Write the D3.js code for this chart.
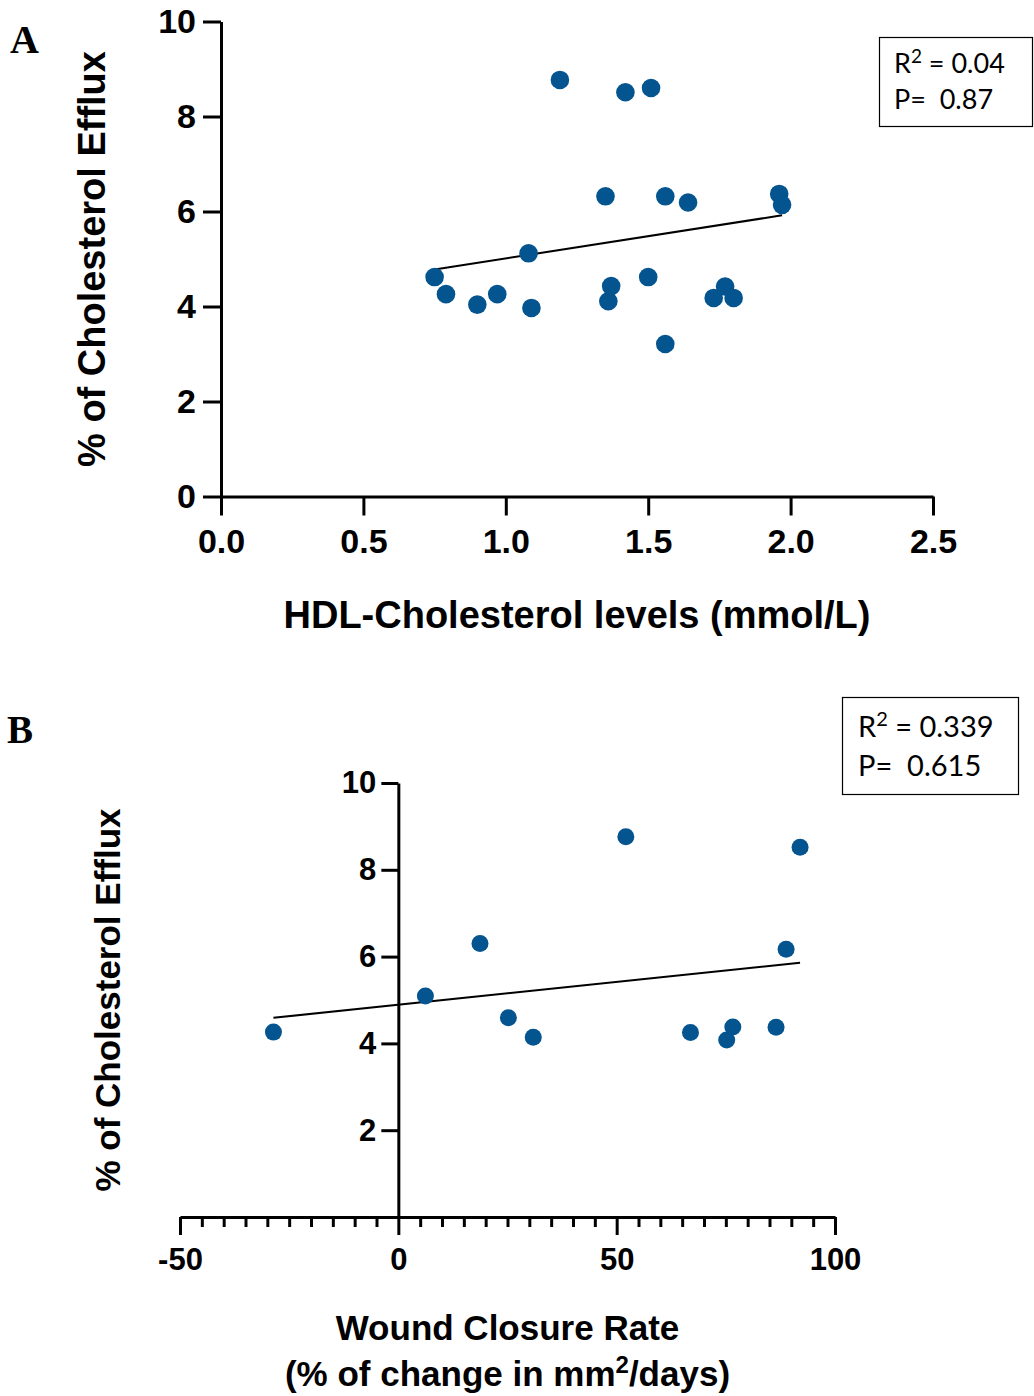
<!DOCTYPE html>
<html>
<head>
<meta charset="utf-8">
<script src="https://cdn.jsdelivr.net/npm/d3@7"></script>
<style>
  html, body { margin: 0; padding: 0; background: #fff; }
  svg { display: block; }
  .axis text { font-family: "Liberation Sans", Arial, sans-serif; font-weight: bold; fill: #000; }
  .axis path, .axis line { stroke: #000; stroke-width: 3; }
  .title { font-family: "Liberation Sans", Arial, sans-serif; font-weight: bold; fill: #000; }
  .panel { font-family: "Liberation Serif", "Times New Roman", serif; font-weight: bold; fill: #000; }
  .stats { font-family: Lato, "Open Sans", sans-serif; fill: #000; }
</style>
</head>
<body>
<svg id="chart" width="1034" height="1396"></svg>
<script>
// Panel A: HDL-cholesterol (mmol/L) vs % cholesterol efflux
const hdlLevels = [0.75, 0.79, 0.90, 0.97, 1.08, 1.09, 1.19, 1.35, 1.36, 1.37, 1.42, 1.50, 1.51, 1.56, 1.56, 1.64, 1.73, 1.77, 1.80, 1.96, 1.97];
const effluxA   = [4.62, 4.26, 4.04, 4.26, 5.12, 3.97, 8.77, 6.32, 4.11, 4.43, 8.51, 4.62, 8.60, 6.32, 3.21, 6.19, 4.18, 4.42, 4.18, 6.37, 6.14];
// Panel B: wound closure rate vs % cholesterol efflux
const woundRate = [-28.6, 6.2, 18.7, 25.2, 30.9, 52.1, 66.9, 75.2, 76.6, 86.5, 88.8, 92.0];
const effluxB   = [4.26, 5.09, 6.30, 4.59, 4.14, 8.76, 4.25, 4.08, 4.38, 4.37, 6.17, 8.52];

// Linear fits [slope, intercept]
const fitA = [0.935, 4.078];
const fitB = [0.01053, 4.89];

// Statistics shown in the boxes
const statsA = { r2: "0.04", p: "0.87" };
const statsB = { r2: "0.339", p: "0.615" };

// Tick values
const xTicksA = [0, 0.5, 1.0, 1.5, 2.0, 2.5];
const yTicksA = [0, 2, 4, 6, 8, 10];
const xTicksB = [-50, 0, 50, 100];
const xMinorB = d3.range(-45, 100, 5).filter(v => v % 50 !== 0);
const yTicksB = [2, 4, 6, 8, 10];

const dotColor = "#04548f";
const svg = d3.select("#chart");

// ---------- Panel A ----------
const xA = d3.scaleLinear().domain([0, 2.5]).range([221, 933]);
const yA = d3.scaleLinear().domain([0, 10]).range([496.5, 21.5]);

const gA = svg.append("g");
gA.append("g").attr("class", "axis")
  .attr("transform", `translate(0,${yA(0)})`)
  .call(d3.axisBottom(xA).tickValues(xTicksA).tickFormat(d => d.toFixed(1))
        .tickSize(19).tickSizeOuter(0).tickPadding(13))
  .call(g => g.selectAll("text").attr("font-size", 34));
gA.append("g").attr("class", "axis")
  .attr("transform", `translate(${xA(0)},0)`)
  .call(d3.axisLeft(yA).tickValues(yTicksA).tickFormat(d => String(d))
        .tickSize(18).tickSizeOuter(0).tickPadding(7))
  .call(g => g.selectAll("text").attr("font-size", 34));

const xExtA = d3.extent(hdlLevels);
gA.append("line")
  .attr("x1", xA(xExtA[0])).attr("y1", yA(fitA[0] * xExtA[0] + fitA[1]))
  .attr("x2", xA(xExtA[1])).attr("y2", yA(fitA[0] * xExtA[1] + fitA[1]))
  .attr("stroke", "#000").attr("stroke-width", 2);

gA.selectAll("circle").data(hdlLevels).join("circle")
  .attr("cx", d => xA(d))
  .attr("cy", (d, i) => yA(effluxA[i]))
  .attr("r", 9.3)
  .attr("fill", dotColor);

gA.append("text").attr("class", "title")
  .attr("transform", `translate(105,${(yA(0) + yA(10)) / 2}) rotate(-90)`)
  .attr("text-anchor", "middle").attr("font-size", 38)
  .text("% of Cholesterol Efflux");
gA.append("text").attr("class", "title")
  .attr("x", (xA(0) + xA(2.5)) / 2).attr("y", 628)
  .attr("text-anchor", "middle").attr("font-size", 38)
  .text("HDL-Cholesterol levels (mmol/L)");

gA.append("text").attr("class", "panel")
  .attr("x", 10).attr("y", 53).attr("font-size", 40).text("A");

// stats box A
gA.append("rect").attr("x", 879.5).attr("y", 37.5).attr("width", 153).attr("height", 89)
  .attr("fill", "none").attr("stroke", "#000").attr("stroke-width", 1.2);
const tA1 = gA.append("text").attr("class", "stats").attr("x", 894).attr("y", 73).attr("font-size", 27);
tA1.append("tspan").text("R");
tA1.append("tspan").attr("font-size", 19).attr("dy", -10).text("2");
tA1.append("tspan").attr("dy", 10).text(" = " + statsA.r2);
gA.append("text").attr("class", "stats").attr("x", 894).attr("y", 109).attr("font-size", 27)
  .attr("xml:space", "preserve").text("P=  " + statsA.p);

// ---------- Panel B ----------
const xB = d3.scaleLinear().domain([-50, 100]).range([180, 835]);
const yB = d3.scaleLinear().domain([0, 10]).range([1217, 783]);

const gB = svg.append("g");
gB.append("g").attr("class", "axis")
  .attr("transform", `translate(0,${yB(0)})`)
  .call(d3.axisBottom(xB).tickValues(xMinorB).tickFormat("").tickSize(10).tickSizeOuter(0))
  .call(g => g.select(".domain").remove());
gB.append("g").attr("class", "axis")
  .attr("transform", `translate(0,${yB(0)})`)
  .call(d3.axisBottom(xB).tickValues(xTicksB).tickFormat(d => String(d))
        .tickSize(18).tickSizeOuter(0).tickPadding(13))
  .call(g => g.selectAll("text").attr("font-size", 31));
gB.append("g").attr("class", "axis")
  .attr("transform", `translate(${xB(0)},0)`)
  .call(d3.axisLeft(yB).tickValues(yTicksB).tickFormat(d => String(d))
        .tickSize(17).tickSizeOuter(0).tickPadding(5))
  .call(g => g.selectAll("text").attr("font-size", 31));

const xExtB = d3.extent(woundRate);
gB.append("line")
  .attr("x1", xB(xExtB[0])).attr("y1", yB(fitB[0] * xExtB[0] + fitB[1]))
  .attr("x2", xB(xExtB[1])).attr("y2", yB(fitB[0] * xExtB[1] + fitB[1]))
  .attr("stroke", "#000").attr("stroke-width", 2);

gB.selectAll("circle").data(woundRate).join("circle")
  .attr("cx", d => xB(d))
  .attr("cy", (d, i) => yB(effluxB[i]))
  .attr("r", 8.5)
  .attr("fill", dotColor);

gB.append("text").attr("class", "title")
  .attr("transform", `translate(120,${(yB(0) + yB(10)) / 2}) rotate(-90)`)
  .attr("text-anchor", "middle").attr("font-size", 35)
  .text("% of Cholesterol Efflux");

const cxB = (xB(-50) + xB(100)) / 2;
gB.append("text").attr("class", "title")
  .attr("x", cxB).attr("y", 1340)
  .attr("text-anchor", "middle").attr("font-size", 35)
  .text("Wound Closure Rate");
const l2 = gB.append("text").attr("class", "title")
  .attr("x", cxB).attr("y", 1386)
  .attr("text-anchor", "middle").attr("font-size", 35);
l2.append("tspan").text("(% of change in mm");
l2.append("tspan").attr("font-size", 24).attr("dy", -13).text("2");
l2.append("tspan").attr("dy", 13).text("/days)");

gB.append("text").attr("class", "panel")
  .attr("x", 7).attr("y", 743).attr("font-size", 39).text("B");

// stats box B
gB.append("rect").attr("x", 842.5).attr("y", 697.5).attr("width", 176).attr("height", 97)
  .attr("fill", "none").attr("stroke", "#000").attr("stroke-width", 1.2);
const tB1 = gB.append("text").attr("class", "stats").attr("x", 858).attr("y", 737).attr("font-size", 29);
tB1.append("tspan").text("R");
tB1.append("tspan").attr("font-size", 20).attr("dy", -11).text("2");
tB1.append("tspan").attr("dy", 11).text(" = " + statsB.r2);
gB.append("text").attr("class", "stats").attr("x", 858).attr("y", 776).attr("font-size", 29)
  .attr("xml:space", "preserve").text("P=  " + statsB.p);
</script>
</body>
</html>
